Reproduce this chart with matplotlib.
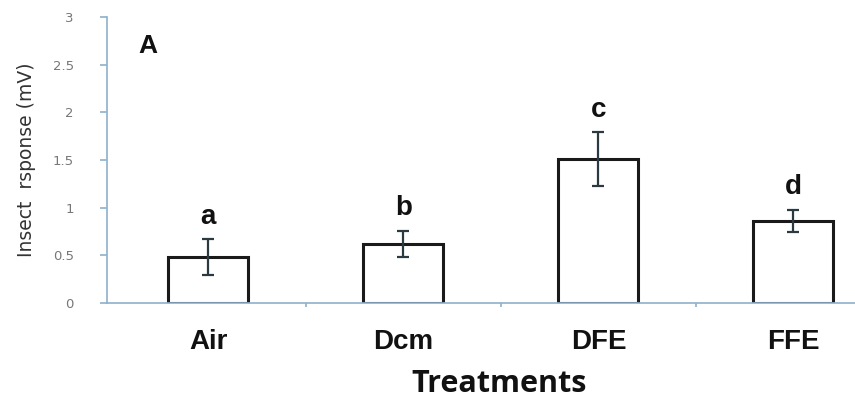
import numpy as np
import matplotlib.pyplot as plt

# treatments and mean insect response (mV)
treatments = ['Air', 'Dcm', 'DFE', 'FFE']
response = [0.48, 0.62, 1.51, 0.86]
std_err = [0.19, 0.14, 0.28, 0.12]
groups = ['a', 'b', 'c', 'd']

axis_col = '#8fb0cc'

fig = plt.figure(figsize=(8.55, 4.05), dpi=100)
ax = fig.add_axes([0.1251, 0.2519, 0.917, 0.706])

x = np.arange(len(treatments))
ax.bar(x, response, width=0.41, color='white', edgecolor='#1a1a1a', linewidth=2.2, zorder=2)
ax.errorbar(x, response, yerr=std_err, fmt='none', ecolor='#2b3a40',
            elinewidth=1.6, capsize=4, capthick=1.6, zorder=3)

for i in range(len(x)):
    ax.text(x[i], response[i] + std_err[i] + 0.16, groups[i], ha='center', va='baseline',
            fontsize=20, fontweight='bold', family='Liberation Sans', color='#111111')

ax.text(-0.36, 2.62, 'A', fontsize=19, fontweight='bold', family='Liberation Sans', color='#111111')

ax.set_xlim(-0.52, 3.5)
ax.set_ylim(0, 3)
ax.set_yticks([0, 0.5, 1, 1.5, 2, 2.5, 3])
ax.set_yticklabels(['0', '0.5', '1', '1.5', '2', '2.5', '3'])
ax.set_xticks(x)
ax.set_xticklabels(treatments)
ax.set_xticks([0.5, 1.5, 2.5], minor=True)

for s in ['top', 'right']:
    ax.spines[s].set_visible(False)
for s in ['left', 'bottom']:
    ax.spines[s].set_color(axis_col)
    ax.spines[s].set_linewidth(1.2)

ax.tick_params(axis='y', colors=axis_col, length=5, width=1.2, pad=19, labelsize=9.5, labelcolor='#777777')
ax.tick_params(axis='x', which='major', length=0, pad=19, labelsize=20, labelcolor='#111111')
ax.tick_params(axis='x', which='minor', colors=axis_col, length=3, width=1.2)
for lab in ax.get_xticklabels():
    lab.set_fontweight('bold')
    lab.set_family('Liberation Sans')

ax.set_ylabel('Insect  rsponse (mV)', fontsize=13.5, color='#333333', labelpad=12)
ax.set_xlabel('Treatments', fontsize=22, fontweight='bold', family='Open Sans',
              color='#111111', labelpad=10)

fig.savefig('out.png', dpi=100)
